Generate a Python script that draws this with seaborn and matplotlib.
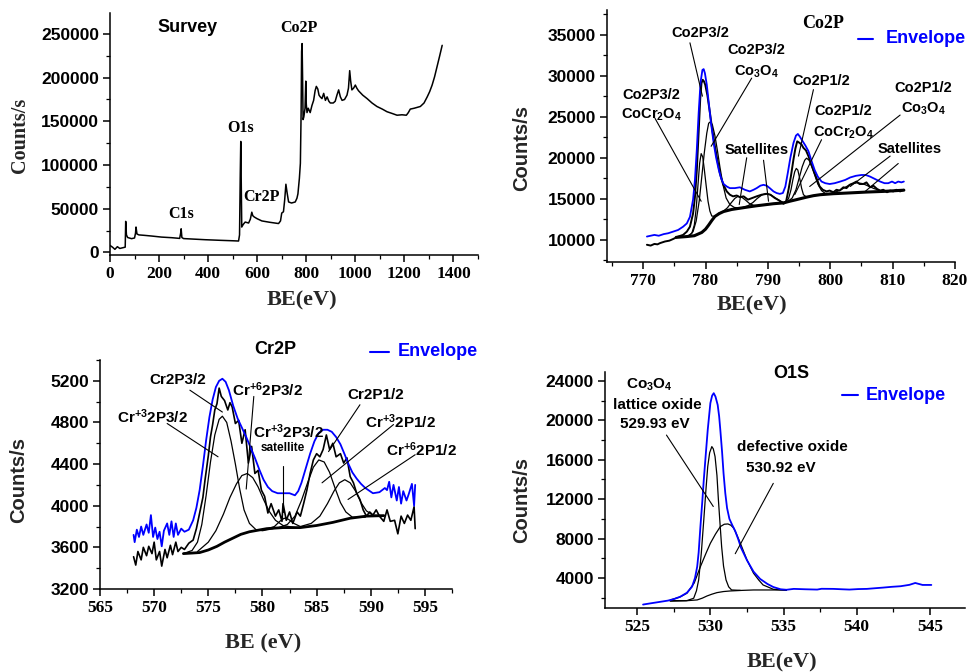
import numpy as np
import matplotlib
matplotlib.use("Agg")
import matplotlib.pyplot as plt
import seaborn as sns
from matplotlib.ticker import MultipleLocator

# ---- Survey spectrum (BE eV, counts/s)
survey = np.array([
    [0, 8000], [10, 6000], [20, 3500], [30, 6500], [40, 4500], [55, 5500], [62, 6000],
    [64, 35500], [67, 20000], [72, 17000], [88, 15700], [100, 16500], [104, 22000],
    [106, 29000], [110, 21000], [118, 20000], [140, 19500], [170, 18700], [210, 17500],
    [252, 16800], [284, 16000], [288, 22000], [290, 27000], [293, 17000], [300, 15800],
    [340, 15200], [388, 14500], [450, 13800], [500, 13300], [524, 13000], [528, 20000],
    [531, 90000], [533, 127000], [535, 80000], [537, 29000], [543, 32000], [551, 34700],
    [565, 33600], [572, 38000], [578, 46000], [582, 42000], [588, 40500], [600, 38500],
    [619, 36000], [650, 34500], [687, 33000], [695, 36000], [700, 45000], [707, 46500],
    [712, 60000], [717, 78000], [722, 68000], [728, 57700], [740, 56500], [755, 57700],
    [762, 62000], [766, 67000], [772, 85000], [776, 102000], [779, 160000], [781, 230000],
    [783, 239000], [785, 200000], [787, 152000], [790, 155000], [795, 165000],
    [798, 196000], [800, 170000], [803, 160000], [808, 165000], [816, 160000],
    [823, 168000], [830, 174000], [836, 185000], [841, 190000], [847, 187000],
    [852, 180000], [857, 178000], [864, 176000], [871, 182000], [878, 174000],
    [885, 178000], [892, 173000], [898, 171000], [910, 171000], [918, 173000],
    [925, 180000], [932, 186000], [939, 178000], [946, 174000], [956, 175000],
    [966, 180000], [972, 188000], [977, 208000], [981, 196000], [986, 186000],
    [993, 188000], [1000, 191500], [1006, 188000], [1013, 185000], [1030, 180000],
    [1048, 176000], [1068, 171000], [1088, 167000], [1110, 164000], [1129, 161000],
    [1150, 159000], [1170, 157000], [1190, 157500], [1208, 157000], [1216, 160000],
    [1224, 164000], [1240, 165000], [1265, 167000], [1280, 171000], [1293, 178000],
    [1303, 184000], [1313, 191500], [1323, 201000], [1333, 212500], [1343, 224000],
    [1354, 237000],
])

# ---- Co2P region
co_data = np.array([
    [770.6, 9400], [771.2, 9300], [771.8, 9500], [772.3, 9450], [772.7, 9600], [773.5, 9800],
    [774.2, 9900], [774.8, 10100], [775.6, 10400], [776.4, 10600], [777.0, 11000],
    [777.5, 11600], [778.0, 13200], [778.3, 15200], [778.6, 18500], [778.9, 23200],
    [779.15, 27200], [779.35, 29100], [779.55, 29500], [779.75, 29300], [779.95, 28900],
    [780.3, 27600], [780.7, 25500], [781.1, 23300], [781.5, 21400], [781.9, 19700],
    [782.3, 18100], [782.8, 16800], [783.4, 15900], [783.9, 15500], [784.4, 15300],
    [785.0, 15400], [785.5, 15200], [786.1, 15300], [786.8, 14900], [787.5, 15100],
    [788.2, 15300], [789.0, 15500], [789.8, 15600], [790.4, 15500], [791.1, 15100],
    [791.8, 14800], [792.5, 14400], [792.9, 14600], [793.3, 16100], [793.7, 17800],
    [794.1, 19800], [794.4, 21100], [794.7, 22000], [795.1, 21800], [795.4, 21600],
    [795.7, 21200], [796.1, 20900], [796.5, 20200], [796.9, 19300], [797.3, 18500],
    [797.8, 17500], [798.3, 16500], [798.8, 16100], [799.4, 15900], [799.9, 16000],
    [800.5, 15800], [801.0, 16100], [801.5, 16000], [802.1, 16400], [802.6, 16300],
    [803.1, 16700], [803.7, 16900], [804.2, 17100], [804.7, 16800], [805.3, 16800],
    [805.8, 17000], [806.4, 16400], [806.9, 16600], [807.5, 16200], [808.0, 16000],
    [808.5, 16100], [809.1, 15800], [809.6, 16000], [810.1, 15900], [810.6, 16100],
    [811.2, 15900], [811.8, 16100],
])
co_envelope = np.array([
    [770.6, 10400], [771.2, 10500], [771.8, 10600], [772.5, 10500], [773.3, 10700],
    [774.0, 10800], [774.8, 11000], [775.6, 11200], [776.4, 11600], [777.0, 12000],
    [777.5, 12800], [778.0, 14900], [778.3, 17300], [778.6, 21000], [778.9, 25500],
    [779.2, 29200], [779.5, 30700], [779.7, 30800], [779.9, 30300], [780.2, 28900],
    [780.5, 26800], [780.9, 24100], [781.3, 21800], [781.7, 20000], [782.1, 18600],
    [782.5, 17500], [782.9, 16800], [783.4, 16500], [783.9, 16300], [784.7, 16300],
    [785.5, 16400], [786.3, 16100], [787.1, 15900], [787.7, 16100], [788.2, 16300],
    [788.8, 16600], [789.3, 16700], [789.8, 16600], [790.3, 16300], [790.9, 15900],
    [791.4, 15700], [791.9, 15600], [792.4, 15700], [792.8, 16500], [793.2, 18200],
    [793.6, 20000], [794.1, 21800], [794.5, 22700], [794.8, 22900], [795.1, 22600],
    [795.5, 22100], [796.0, 21500], [796.5, 20800], [797.0, 19600], [797.5, 18500],
    [798.0, 17700], [798.6, 17100], [799.2, 16900], [799.9, 16800], [800.7, 16900],
    [801.6, 17100], [802.4, 17300], [803.2, 17600], [804.1, 17800], [805.0, 17900],
    [805.7, 17900], [806.4, 17700], [807.2, 17400], [808.0, 17100], [808.7, 16900],
    [809.3, 16900], [809.9, 17100], [810.4, 16900], [810.9, 17100], [811.4, 17000],
    [811.8, 17100],
])
co_background = np.array([
    [775.3, 10300], [777.0, 10400], [778.2, 10500], [779.4, 10900], [780.0, 11300],
    [780.5, 11800], [781.0, 12350], [781.5, 12850], [782.2, 13200], [782.9, 13450],
    [784.2, 13700], [785.5, 13850], [786.8, 14000], [788.2, 14150], [789.6, 14280],
    [790.9, 14400], [792.5, 14500], [793.5, 14700], [794.6, 14900], [795.4, 15050],
    [796.2, 15200], [797.3, 15380], [798.4, 15500], [800.5, 15620], [803.2, 15720],
    [805.8, 15820], [808.5, 15900], [811.8, 16050],
])
co_p32_cocr2o4 = np.array([
    [777.0, 10400], [777.8, 10800], [778.2, 11800], [778.5, 13800], [778.8, 16800],
    [779.05, 19300], [779.3, 20500], [779.55, 20100], [779.8, 18600], [780.1, 16600],
    [780.4, 14700], [780.7, 13500], [781.0, 12900], [781.5, 12850],
])
co_p32_co3o4 = np.array([
    [777.3, 10400], [778.0, 11000], [778.5, 12300], [779.0, 14800], [779.4, 17700],
    [779.8, 20600], [780.2, 23000], [780.5, 24200], [780.8, 24400], [781.1, 24000],
    [781.5, 22700], [781.9, 20900], [782.3, 18900], [782.8, 16700], [783.3, 15100],
    [783.9, 14300], [784.6, 13950], [785.5, 13850],
])
co_satellite_1 = np.array([
    [782.0, 13200], [782.8, 13450], [783.5, 13900], [784.1, 14500], [784.7, 15050],
    [785.2, 15300], [785.8, 15200], [786.4, 14850], [787.0, 14450], [787.7, 14200],
    [788.6, 14150],
])
co_satellite_2 = np.array([
    [785.8, 13900], [786.8, 14150], [787.6, 14550], [788.3, 15050], [789.0, 15450],
    [789.7, 15650], [790.4, 15500], [791.1, 15150], [791.8, 14800], [792.5, 14550],
    [793.3, 14650],
])
co_p12_cocr2o4 = np.array([
    [792.6, 14500], [793.3, 15000], [793.7, 16100], [794.0, 17300], [794.3, 18300],
    [794.55, 18700], [794.8, 18500], [795.1, 17500], [795.4, 16300], [795.7, 15500],
    [796.2, 15200],
])
co_p12_co3o4 = np.array([
    [793.2, 14650], [793.9, 15100], [794.5, 16100], [795.0, 17500], [795.5, 18900],
    [795.9, 19700], [796.2, 19950], [796.6, 19700], [797.0, 19000], [797.5, 17900],
    [798.0, 16800], [798.6, 16000], [799.2, 15650], [800.0, 15600],
])
co_satellite_3 = np.array([
    [799.5, 15580], [800.6, 15750], [801.6, 16050], [802.5, 16450], [803.4, 16800],
    [804.3, 16950], [805.2, 16850], [806.1, 16550], [807.0, 16250], [808.0, 16000],
    [809.5, 15950],
])

# ---- Cr2P region
cr_data = np.array([
    [568.1, 3510], [568.3, 3430], [568.5, 3560], [568.8, 3480], [569.0, 3600], [569.3, 3520],
    [569.5, 3610], [569.8, 3540], [570.0, 3650], [570.2, 3480], [570.5, 3560], [570.7, 3420],
    [571.0, 3580], [571.2, 3500], [571.5, 3620], [571.7, 3530], [572.0, 3650], [572.2, 3560],
    [572.5, 3600], [572.8, 3580], [573.2, 3640], [573.6, 3670], [573.9, 3780], [574.2, 3930],
    [574.5, 4080], [574.7, 4250], [575.0, 4480], [575.2, 4660], [575.4, 4780], [575.6, 4920],
    [575.8, 4980], [576.0, 5130], [576.2, 5050], [576.5, 5010], [576.8, 4920], [577.0, 4990],
    [577.2, 4950], [577.5, 4790], [577.8, 4820], [578.1, 4600], [578.4, 4730], [578.7, 4410],
    [579.0, 4570], [579.3, 4310], [579.6, 4340], [579.9, 4150], [580.2, 4090], [580.5, 3930],
    [580.8, 4020], [581.2, 3900], [581.5, 3960], [581.8, 3850], [581.9, 4020], [582.2, 3860],
    [582.5, 3940], [582.8, 3830], [583.2, 3940], [583.5, 3900], [583.8, 4020], [584.1, 4150],
    [584.4, 4310], [584.7, 4440], [585.0, 4500], [585.3, 4470], [585.6, 4540], [585.9, 4680],
    [586.2, 4540], [586.5, 4600], [586.8, 4470], [587.2, 4500], [587.5, 4410], [587.8, 4460],
    [588.1, 4280], [588.4, 4220], [588.7, 4120], [589.0, 4060], [589.3, 3960], [589.6, 3900],
    [589.9, 3940], [590.2, 3910], [590.5, 3960], [590.8, 3900], [591.2, 3850], [591.5, 3960],
    [591.8, 3850], [592.2, 3860], [592.5, 3730], [592.8, 3900], [593.1, 3830], [593.4, 3910],
    [593.7, 3860], [594.0, 3990], [594.1, 3780],
])
cr_envelope = np.array([
    [568.1, 3720], [568.2, 3650], [568.4, 3770], [568.6, 3700], [568.8, 3800], [569.0, 3720],
    [569.3, 3820], [569.5, 3740], [569.7, 3910], [569.9, 3700], [570.1, 3790], [570.3, 3680],
    [570.5, 3750], [570.7, 3610], [570.9, 3760], [571.2, 3830], [571.4, 3720], [571.6, 3850],
    [571.8, 3700], [572.0, 3830], [572.2, 3720], [572.5, 3780], [572.8, 3750], [573.2, 3770],
    [573.6, 3860], [573.9, 3980], [574.2, 4150], [574.5, 4380], [574.8, 4630], [575.1, 4850],
    [575.4, 5020], [575.7, 5140], [576.0, 5200], [576.3, 5220], [576.6, 5190], [576.9, 5110],
    [577.3, 4960], [577.7, 4840], [578.1, 4750], [578.5, 4660], [578.9, 4560], [579.3, 4460],
    [579.7, 4350], [580.1, 4250], [580.5, 4180], [580.9, 4140], [581.4, 4120], [581.9, 4120],
    [582.5, 4120], [583.0, 4100], [583.3, 4140], [583.6, 4220], [584.0, 4360], [584.4, 4500],
    [584.8, 4620], [585.2, 4700], [585.6, 4730], [586.0, 4730], [586.4, 4710], [586.8, 4660],
    [587.2, 4590], [587.6, 4490], [587.9, 4410], [588.3, 4320], [588.7, 4260], [589.1, 4210],
    [589.5, 4170], [590.2, 4120], [590.8, 4130], [591.3, 4170], [591.5, 4150], [591.7, 4230],
    [591.9, 4080], [592.1, 4200], [592.4, 4050], [592.6, 4180], [592.8, 4020], [593.0, 4140],
    [593.3, 4050], [593.5, 4110], [593.8, 4210], [594.0, 4000], [594.1, 4200],
])
cr_background = np.array([
    [572.7, 3540], [574.2, 3550], [575.0, 3575], [575.8, 3610], [576.5, 3650], [577.3, 3690],
    [578.0, 3725], [578.8, 3750], [580.4, 3780], [581.9, 3790], [583.5, 3790], [585.0, 3810],
    [586.5, 3840], [588.1, 3880], [589.6, 3900], [591.2, 3905],
])
cr3_p32 = np.array([
    [572.7, 3540], [573.5, 3570], [574.0, 3650], [574.4, 3820], [574.8, 4100], [575.2, 4420],
    [575.6, 4680], [576.0, 4830], [576.3, 4860], [576.7, 4800], [577.1, 4620], [577.5, 4400],
    [577.9, 4160], [578.3, 3960], [578.8, 3830], [579.4, 3770], [580.0, 3760], [581.0, 3780],
])
cr6_p32 = np.array([
    [574.0, 3560], [575.0, 3650], [575.7, 3760], [576.4, 3920], [577.0, 4080], [577.6, 4210],
    [578.1, 4290], [578.6, 4310], [579.1, 4270], [579.6, 4180], [580.1, 4060], [580.6, 3950],
    [581.2, 3860], [581.9, 3810], [583.0, 3790],
])
cr3_satellite = np.array([
    [580.5, 3780], [581.1, 3800], [581.6, 3850], [582.0, 3880], [582.4, 3870], [582.9, 3830],
    [583.5, 3800],
])
cr3_p12 = np.array([
    [581.5, 3790], [582.3, 3820], [583.0, 3900], [583.6, 4050], [584.2, 4230], [584.7, 4370],
    [585.2, 4440], [585.7, 4420], [586.2, 4320], [586.7, 4170], [587.2, 4030], [587.7, 3940],
    [588.3, 3890], [589.5, 3890],
])
cr6_p12 = np.array([
    [583.5, 3800], [584.5, 3830], [585.3, 3900], [586.0, 4020], [586.6, 4140], [587.1, 4220],
    [587.6, 4250], [588.1, 4220], [588.6, 4140], [589.1, 4030], [589.6, 3950], [590.2, 3910],
    [591.0, 3905],
])

# ---- O1s region
o_envelope = np.array([
    [525.4, 1300], [525.9, 1420], [526.5, 1560], [527.1, 1700], [527.5, 1850], [527.95, 2100],
    [528.4, 2500], [528.75, 3120], [528.95, 4000], [529.1, 5150], [529.2, 6600], [529.32, 9210],
    [529.45, 11800], [529.55, 13950], [529.7, 16800], [529.82, 19030], [530.0, 21740],
    [530.12, 22500], [530.23, 22750], [530.35, 22400], [530.5, 21560], [530.6, 20400],
    [530.68, 19030], [530.8, 16800], [530.9, 14630], [531.02, 12600], [531.14, 11100],
    [531.3, 10000], [531.5, 9350], [531.7, 8750], [531.9, 7950], [532.1, 7050], [532.5, 5800],
    [532.95, 4640], [533.4, 3900], [533.9, 3390], [534.3, 3080], [534.8, 2850], [535.2, 2800],
    [535.7, 2890], [536.5, 2850], [537.3, 2820], [537.6, 2900], [538.4, 2890], [539.0, 2850],
    [539.5, 2820], [540.1, 2870], [540.7, 2890], [541.2, 2950], [541.8, 3020], [542.4, 3100],
    [543.0, 3160], [543.6, 3300], [544.0, 3490], [544.5, 3290], [545.1, 3290],
])
o_lattice = np.array([
    [527.2, 1700], [528.4, 1700], [528.86, 1940], [529.05, 2700], [529.2, 3800],
    [529.38, 6500], [529.55, 9890], [529.7, 13000], [529.82, 15300], [529.95, 16700],
    [530.1, 17330], [530.2, 17100], [530.32, 16320], [530.45, 14400], [530.55, 11920],
    [530.66, 9500], [530.77, 7180], [530.9, 5200], [531.07, 3800], [531.25, 3100],
    [531.45, 2780], [532.05, 2740],
])
o_defective = np.array([
    [527.27, 1770], [527.9, 2050], [528.4, 2450], [528.9, 3500], [529.32, 5150],
    [529.7, 6500], [530.0, 7520], [530.35, 8450], [530.68, 9210], [530.95, 9450],
    [531.2, 9480], [531.4, 9350], [531.6, 9050], [531.8, 8400], [532.05, 7520],
    [532.5, 5830], [532.95, 4480], [533.3, 3800], [533.6, 3290], [534.3, 2850], [535.2, 2740],
])
o_background = np.array([
    [527.27, 1640], [528.3, 1680], [529.1, 1770], [529.45, 1950], [529.77, 2170],
    [530.1, 2350], [530.45, 2510], [530.9, 2620], [531.37, 2680], [532.2, 2740],
    [532.95, 2780], [535.2, 2780],
])

# tick values
survey_xticks = [0, 200, 400, 600, 800, 1000, 1200, 1400]
survey_yticks = [0, 50000, 100000, 150000, 200000, 250000]
co_xticks = [770, 780, 790, 800, 810, 820]
co_yticks = [10000, 15000, 20000, 25000, 30000, 35000]
cr_xticks = [565, 570, 575, 580, 585, 590, 595]
cr_yticks = [3200, 3600, 4000, 4400, 4800, 5200]
o_xticks = [525, 530, 535, 540, 545]
o_yticks = [4000, 8000, 12000, 16000, 20000, 24000]

SANS = "Liberation Sans"
SERIF = "Liberation Serif"

sns.set_theme(style="ticks")
plt.rcParams["font.family"] = [SANS, "DejaVu Sans"]
plt.rcParams["mathtext.fontset"] = "custom"
plt.rcParams["mathtext.rm"] = "Liberation Sans:bold"
plt.rcParams["mathtext.it"] = "Liberation Sans:bold"
plt.rcParams["mathtext.bf"] = "Liberation Sans:bold"
plt.rcParams["mathtext.default"] = "rm"
plt.rcParams["axes.edgecolor"] = "black"
plt.rcParams["xtick.color"] = "black"
plt.rcParams["ytick.color"] = "black"


def curve(ax, arr, color="black", lw=0.9):
    sns.lineplot(x=arr[:, 0], y=arr[:, 1], ax=ax, color=color, linewidth=lw,
                 estimator=None, sort=False)


def style(ax, xlim, ylim, xt, yt, xminor, yminor, ylab_family=SANS):
    ax.set_xlim(*xlim)
    ax.set_ylim(*ylim)
    ax.set_xticks(xt)
    ax.set_xticklabels([str(t) for t in xt], fontfamily=SERIF, fontweight="bold", fontsize=12.5)
    ax.set_yticks(yt)
    ax.set_yticklabels([str(t) for t in yt], fontfamily=ylab_family, fontweight="bold", fontsize=12.5)
    ax.xaxis.set_minor_locator(MultipleLocator(xminor))
    ax.yaxis.set_minor_locator(MultipleLocator(yminor))
    ax.tick_params(which="major", direction="out", length=5, width=1.1, pad=3)
    ax.tick_params(which="minor", direction="out", length=3, width=0.9)
    for s in ["left", "bottom"]:
        ax.spines[s].set_linewidth(1.1)
    sns.despine(ax=ax)
    ax.set_xlabel("")
    ax.set_ylabel("")


def seg(ax, p0, p1):
    ax.plot([p0[0], p1[0]], [p0[1], p1[1]], color="black", lw=0.8, clip_on=False)


def lab(ax, x, y, s, size=10.5, family=SANS, color="black"):
    ax.text(x, y, s, ha="center", va="center", fontsize=size, fontweight="bold",
            family=family, color=color, clip_on=False)


def legend_env(ax, x0, x1, y, xt, size=13):
    ax.plot([x0, x1], [y, y], color="blue", lw=1.5, clip_on=False)
    ax.text(xt, y, "Envelope", ha="left", va="center", fontsize=size,
            fontweight="bold", color="blue", clip_on=False)


W, H = 969, 672
fig = plt.figure(figsize=(W / 100, H / 100), dpi=100)


def add_axes(l, t, r, b):
    return fig.add_axes([l / W, 1 - b / H, (r - l) / W, (b - t) / H])


# ---- Survey panel
ax1 = add_axes(110, 13, 478, 255)
curve(ax1, survey, lw=1.1)
style(ax1, (0, 1500), (-3000, 274000), survey_xticks, survey_yticks, 100, 25000)
lab(ax1, 314, 257000, "Survey", size=13)
lab(ax1, 770, 257000, "Co2P", size=11.5, family=SERIF)
lab(ax1, 533, 142500, "O1s", size=11.5, family=SERIF)
lab(ax1, 288, 44300, "C1s", size=11.5, family=SERIF)
lab(ax1, 618, 63500, "Cr2P", size=11.5, family=SERIF)
fig.text(20 / W, 1 - 135 / H, "Counts/s", rotation=90, ha="center", va="center",
         fontsize=14.5, fontweight="bold", family=SERIF)
fig.text(302 / W, 1 - 300 / H, "BE(eV)", ha="center", va="center",
         fontsize=16, fontweight="bold", family=SERIF)

# ---- Co2P panel
ax2 = add_axes(607, 10, 955, 262)
for comp in [co_p32_cocr2o4, co_p32_co3o4, co_satellite_1, co_satellite_2,
             co_p12_cocr2o4, co_p12_co3o4, co_satellite_3]:
    curve(ax2, comp, lw=0.9)
curve(ax2, co_background, lw=2.2)
curve(ax2, co_data, lw=1.4)
curve(ax2, co_envelope, color="blue", lw=1.3)
style(ax2, (764.2, 820), (7300, 38000), co_xticks, co_yticks, 5, 2500)
lab(ax2, 779.1, 35200, "Co2P3/2")
seg(ax2, (777.5, 34000), (779.5, 27500))
lab(ax2, 788.2, 33100, "Co2P3/2")
lab(ax2, 788.2, 30500, r"Co$_3$O$_4$")
seg(ax2, (787.4, 29700), (780.9, 21400))
lab(ax2, 771.3, 27700, "Co2P3/2")
lab(ax2, 771.3, 25200, r"CoCr$_2$O$_4$")
seg(ax2, (771.9, 24800), (779.3, 14700))
lab(ax2, 788.2, 21000, "Satellites")
seg(ax2, (786.6, 20000), (785.4, 14300))
seg(ax2, (789.3, 19700), (790.1, 14700))
lab(ax2, 798.6, 29300, "Co2P1/2")
seg(ax2, (797.3, 28300), (794.9, 20200))
lab(ax2, 802.1, 25700, "Co2P1/2")
lab(ax2, 802.1, 23100, r"CoCr$_2$O$_4$")
seg(ax2, (798.6, 22200), (794.3, 15500))
lab(ax2, 814.9, 28500, "Co2P1/2")
lab(ax2, 814.9, 26000, r"Co$_3$O$_4$")
seg(ax2, (811.2, 25200), (796.7, 16500))
lab(ax2, 812.7, 21100, "Satellites")
seg(ax2, (809.6, 20200), (803.2, 16500))
seg(ax2, (810.9, 19300), (805.6, 15900))
lab(ax2, 798.9, 36400, "Co2P", size=13, family=SERIF)
legend_env(ax2, 804.5, 806.9, 34470, 808.9)
fig.text(522 / W, 1 - 148 / H, "Counts/s", rotation=90, ha="center", va="center",
         fontsize=14.5, fontweight="bold", family=SANS)
fig.text(752 / W, 1 - 305 / H, "BE(eV)", ha="center", va="center",
         fontsize=16, fontweight="bold", family=SERIF)

# ---- Cr2P panel
ax3 = add_axes(100, 360, 452, 589)
for comp in [cr3_p32, cr6_p32, cr3_satellite, cr3_p12, cr6_p12]:
    curve(ax3, comp, lw=0.9)
curve(ax3, cr_background, lw=2.0)
curve(ax3, cr_data, lw=1.2)
curve(ax3, cr_envelope, color="blue", lw=1.3)
style(ax3, (565, 597.5), (3200, 5400), cr_xticks, cr_yticks, 2.5, 200)
lab(ax3, 572.2, 5210, "Cr2P3/2", size=11)
seg(ax3, (573.3, 5110), (576.3, 4900))
lab(ax3, 569.8, 4860, r"Cr$^{+3}$2P3/2", size=11)
seg(ax3, (571.2, 4790), (575.9, 4470))
lab(ax3, 580.5, 5110, r"Cr$^{+6}$2P3/2", size=11)
seg(ax3, (579.2, 5050), (578.5, 4160))
lab(ax3, 582.4, 4710, r"Cr$^{+3}$2P3/2", size=11)
lab(ax3, 581.9, 4550, "satellite", size=8.5)
seg(ax3, (581.9, 4380), (581.9, 3940))
lab(ax3, 590.5, 5060, "Cr2P1/2", size=11)
seg(ax3, (589.0, 4970), (586.1, 4520))
lab(ax3, 592.7, 4810, r"Cr$^{+3}$2P1/2", size=11)
seg(ax3, (592.1, 4780), (585.5, 4220))
lab(ax3, 594.7, 4540, r"Cr$^{+6}$2P1/2", size=11)
seg(ax3, (594.1, 4490), (587.9, 4060))
lab(ax3, 581.2, 5500, "Cr2P", size=13)
legend_env(ax3, 589.9, 591.7, 5480, 592.5)
fig.text(19 / W, 1 - 480 / H, "Counts/s", rotation=90, ha="center", va="center",
         fontsize=14.5, fontweight="bold", family=SANS)
fig.text(263 / W, 1 - 643 / H, "BE (eV)", ha="center", va="center",
         fontsize=16, fontweight="bold", family=SERIF)

# ---- O1s panel
ax4 = add_axes(605, 372, 965, 608)
for comp in [o_lattice, o_defective, o_background]:
    curve(ax4, comp, lw=0.9)
curve(ax4, o_envelope, color="blue", lw=1.3)
style(ax4, (522.8, 547.4), (950, 24900), o_xticks, o_yticks, 2.5, 2000)
lab(ax4, 525.8, 23560, r"Co$_3$O$_4$", size=11)
lab(ax4, 526.4, 21540, "lattice oxide", size=11)
lab(ax4, 526.2, 19580, "529.93 eV", size=11)
seg(ax4, (527.0, 18500), (530.2, 11250))
lab(ax4, 535.6, 17250, "defective oxide", size=11)
lab(ax4, 534.8, 15130, "530.92 eV", size=11)
seg(ax4, (534.3, 13600), (531.7, 6460))
lab(ax4, 535.5, 24700, "O1S", size=13)
legend_env(ax4, 539.0, 540.1, 22550, 540.6)
fig.text(522 / W, 1 - 500 / H, "Counts/s", rotation=90, ha="center", va="center",
         fontsize=14.5, fontweight="bold", family=SANS)
fig.text(782 / W, 1 - 662 / H, "BE(eV)", ha="center", va="center",
         fontsize=16, fontweight="bold", family=SERIF)

fig.savefig("out.png", dpi=100)
